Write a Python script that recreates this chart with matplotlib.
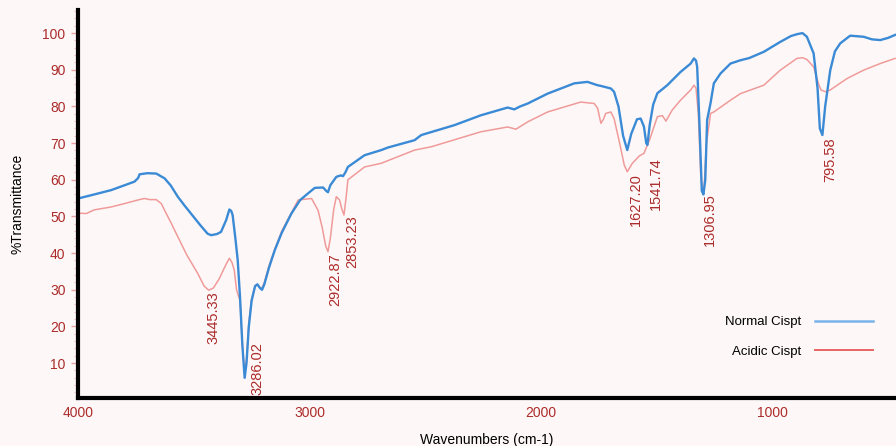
import matplotlib
matplotlib.use("Agg")
import matplotlib.pyplot as plt
from matplotlib.lines import Line2D
from matplotlib.ticker import MultipleLocator

# ---------------- data ----------------
normal_wn = [4000, 3930, 3856, 3756, 3740, 3734, 3700, 3662, 3626, 3600, 3569, 3540, 3512,
             3470, 3440, 3425, 3400, 3382, 3360, 3346, 3338, 3332, 3320, 3310, 3300, 3290,
             3280, 3272, 3262, 3250, 3235, 3225, 3214, 3205, 3195, 3175, 3150, 3120, 3078,
             3040, 3006, 2977, 2941, 2928, 2920, 2910, 2884, 2865, 2855, 2845, 2834, 2762,
             2690, 2661, 2546, 2517, 2374, 2259, 2144, 2115, 2090, 2057, 1971, 1856, 1799,
             1756, 1741, 1698, 1684, 1665, 1645, 1627, 1610, 1585, 1569, 1555, 1545, 1540,
             1530, 1515, 1497, 1454, 1397, 1353, 1339, 1330, 1325, 1315, 1305, 1298, 1290,
             1282, 1267, 1253, 1224, 1181, 1138, 1100, 1037, 966, 920, 894, 870, 851, 822,
             805, 795, 784, 772, 750, 730, 707, 664, 606, 570, 534, 500, 470]
normal_T = [54.9, 56.0, 57.2, 59.5, 60.5, 61.5, 61.8, 61.7, 60.4, 58.5, 55.4, 53.0, 50.8,
            47.5, 45.3, 44.9, 45.2, 45.8, 49.0, 51.9, 51.5, 50.4, 44.0, 38.1, 28.0, 15.0,
            6.0, 10.0, 20.0, 27.0, 31.0, 31.5, 30.5, 30.0, 31.5, 36.0, 40.8, 45.5, 50.8,
            54.5, 56.3, 57.8, 57.9, 57.0, 56.6, 58.5, 60.8, 61.2, 61.0, 62.0, 63.5, 66.7,
            68.1, 68.8, 70.8, 72.2, 74.9, 77.6, 79.7, 79.2, 80.0, 80.8, 83.5, 86.3, 86.7,
            85.8, 85.6, 84.9, 84.0, 80.0, 72.0, 68.1, 72.5, 76.5, 76.7, 74.5, 70.0, 69.5,
            75.0, 80.5, 83.6, 85.8, 89.4, 91.7, 93.1, 92.5, 90.8, 75.0, 57.0, 56.0, 60.0,
            76.3, 81.0, 86.3, 89.0, 91.7, 92.6, 93.2, 94.9, 97.6, 99.2, 99.7, 100.0, 99.0, 94.5,
            85.0, 74.0, 72.2, 80.0, 89.9, 95.0, 97.2, 99.3, 99.0, 98.3, 98.1, 98.7, 99.5]

acidic_wn = [4000, 3964, 3930, 3856, 3800, 3741, 3713, 3690, 3662, 3640, 3626, 3600, 3569,
             3530, 3483, 3455, 3435, 3415, 3390, 3360, 3346, 3335, 3325, 3315, 3300, 3290,
             3280, 3272, 3262, 3250, 3235, 3225, 3214, 3205, 3195, 3175, 3150, 3120, 3078,
             3049, 2991, 2963, 2945, 2930, 2920, 2910, 2895, 2884, 2870, 2860, 2851, 2842,
             2834, 2762, 2690, 2546, 2474, 2259, 2144, 2108, 2057, 1971, 1828, 1770, 1755,
             1741, 1730, 1720, 1698, 1684, 1660, 1640, 1627, 1605, 1575, 1555, 1530, 1497,
             1475, 1460, 1433, 1397, 1353, 1339, 1330, 1320, 1310, 1303, 1295, 1285, 1267,
             1253, 1181, 1138, 1037, 966, 894, 870, 851, 822, 800, 790, 770, 750, 678, 606,
             534, 470]
acidic_T = [50.9, 50.8, 51.8, 52.6, 53.5, 54.5, 54.9, 54.6, 54.6, 53.5, 51.7, 48.5, 44.5,
            39.5, 34.5, 31.0, 29.9, 30.5, 33.0, 37.0, 38.6, 37.5, 35.4, 30.0, 27.0, 15.0,
            7.0, 11.0, 21.0, 27.5, 31.0, 31.5, 30.5, 30.5, 32.0, 36.5, 41.0, 46.0, 51.0,
            54.5, 54.9, 51.7, 47.0, 42.0, 40.4, 44.0, 52.0, 55.4, 54.5, 52.0, 50.4, 55.0,
            60.0, 63.5, 64.5, 68.1, 69.0, 73.1, 74.4, 73.8, 75.8, 78.5, 81.2, 80.8, 79.5,
            75.4, 76.5, 78.1, 78.5, 76.7, 70.0, 64.0, 62.2, 64.5, 66.5, 67.2, 71.0, 77.2,
            77.5, 76.0, 79.0, 81.7, 84.5, 85.8, 85.0, 78.0, 62.0, 57.0, 58.0, 70.0, 78.1,
            78.5, 81.7, 83.5, 85.8, 89.9, 93.1, 93.3, 92.8, 90.8, 86.0, 84.5, 84.0, 84.5,
            87.6, 89.9, 91.7, 93.1]

peak_labels = ["3445.33", "3286.02", "2922.87", "2853.23", "1627.20", "1541.74", "1306.95", "795.58"]
peak_label_T = [29.6, 15.8, 40.0, 50.4, 61.8, 66.2, 56.3, 71.6]

series_names = ["Normal Cispt", "Acidic Cispt"]
x_ticks = [4000, 3000, 2000, 1000]
y_ticks = [10, 20, 30, 40, 50, 60, 70, 80, 90, 100]

# label horizontal nudges (points), style only
label_dx = [5, 10, 6, 6, 6, 6.5, 6, 7.5]

# ---------------- style ----------------
bg = "#fdf8f7"
blue = "#3b8ad6"
red_curve = "#f09a9a"
label_red = "#ac2b2b"

plt.rcParams["font.family"] = ["Liberation Sans", "DejaVu Sans"]

fig = plt.figure(figsize=(8.96, 4.46), dpi=100, facecolor=bg)
ax = fig.add_axes([78 / 896, 48 / 446, 1 - 78 / 896, 388 / 446])
ax.set_facecolor(bg)

ax.plot(acidic_wn, acidic_T, color=red_curve, lw=1.1, zorder=2)
ax.plot(normal_wn, normal_T, color=blue, lw=1.7, zorder=3)

ax.set_xlim(4000, 466)
ax.set_ylim(0.5, 106.3)

for s in ["top", "right"]:
    ax.spines[s].set_visible(False)
for s in ["left", "bottom"]:
    ax.spines[s].set_linewidth(3.0)
    ax.spines[s].set_color("black")
    ax.spines[s].set_zorder(5)

ax.set_xticks(x_ticks)
ax.set_xticklabels([str(v) for v in x_ticks])
ax.set_yticks(y_ticks)
ax.set_yticklabels([str(v) for v in y_ticks])
ax.yaxis.set_minor_locator(MultipleLocator(2))
ax.tick_params(axis="x", length=0, pad=6, labelsize=10, labelcolor=label_red)
ax.tick_params(axis="y", which="major", length=5, width=1, color="#e9a0a0", pad=4,
               labelsize=10, labelcolor=label_red)
ax.tick_params(axis="y", which="minor", length=3, width=0.8, color="#f2c0c0")

ax.set_xlabel("Wavenumbers (cm-1)", fontsize=10, color="black", labelpad=9)
ax.set_ylabel("%Transmittance", fontsize=10, color="black", labelpad=13)

for lab, ty, dx in zip(peak_labels, peak_label_T, label_dx):
    ax.annotate(lab, xy=(float(lab), ty), xytext=(dx, 0), textcoords="offset points",
                rotation=90, ha="center", va="top", fontsize=10.5, color=label_red, zorder=4)

handles = [Line2D([], [], color="#78b3ea", lw=1.8),
           Line2D([], [], color="#e86464", lw=1.4)]
fig.legend(handles, series_names, loc="center", bbox_to_anchor=(799 / 896, 1 - 337 / 446),
           bbox_transform=fig.transFigure, frameon=False, markerfirst=False,
           handlelength=4.4, labelspacing=1.3, fontsize=9.5, handletextpad=1.1)

fig.savefig("out.png", dpi=100, facecolor=bg)
